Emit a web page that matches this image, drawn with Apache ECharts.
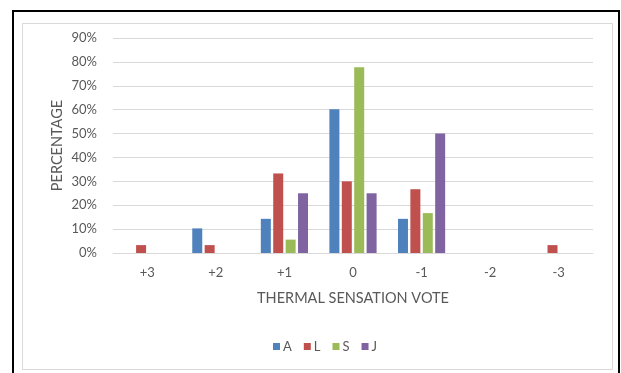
<!DOCTYPE html>
<html>
<head>
<meta charset="utf-8">
<script src="https://cdn.jsdelivr.net/npm/echarts@6/dist/echarts.min.js"></script>
<style>
  html, body { margin: 0; padding: 0; background: #ffffff; }
  #chart { width: 621px; height: 373px; }
</style>
</head>
<body>
<div id="chart"></div>
<script>
// Thermal sensation vote categories (hot to cold)
const votes = ['+3', '+2', '+1', '0', '-1', '-2', '-3'];

// Share of responses per vote, in percent
const seriesA = [0, 10.3, 14.3, 60.2, 14.3, 0, 0];
const seriesL = [3.3, 3.3, 33.3, 30.0, 26.7, 0, 3.3];
const seriesS = [0, 0, 5.6, 77.8, 16.7, 0, 0];
const seriesJ = [0, 0, 25.0, 25.0, 50.0, 0, 0];

const seriesNames = ['A', 'L', 'S', 'J'];
const seriesColors = ['#4f81bd', '#c0504d', '#9bbb59', '#8064a2'];

// Y axis range, in percent
const yMin = 0;
const yMax = 90;
const yStep = 10;

const FONT = 'Lato, "Open Sans", sans-serif';
const TEXT = '#595959';
const GRID = '#d9d9d9';

const chart = echarts.init(document.getElementById('chart'), null, { renderer: 'canvas' });

const values = [seriesA, seriesL, seriesS, seriesJ];

chart.setOption({
  backgroundColor: '#ffffff',
  animation: false,
  textStyle: { fontFamily: FONT },
  graphic: [
    {
      type: 'rect',
      shape: { x: 13, y: 11, width: 606, height: 372 },
      style: { fill: 'none', stroke: '#000000', lineWidth: 2 },
      silent: true
    },
    {
      type: 'rect',
      shape: { x: 22.5, y: 23.5, width: 590, height: 346 },
      style: { fill: 'none', stroke: GRID, lineWidth: 1 },
      silent: true
    }
  ],
  grid: { left: 113, right: 28, top: 38, bottom: 120, containLabel: false },
  legend: {
    data: seriesNames,
    left: 268,
    top: 335,
    icon: 'rect',
    itemWidth: 7,
    itemHeight: 7,
    itemGap: 12,
    textStyle: { color: TEXT, fontSize: 13, fontFamily: FONT, padding: [0, 0, 0, -2] }
  },
  xAxis: {
    type: 'category',
    data: votes,
    name: 'THERMAL SENSATION VOTE',
    nameLocation: 'middle',
    nameGap: 38,
    nameMoveOverlap: false,
    nameTextStyle: { color: TEXT, fontSize: 14.5, fontFamily: FONT },
    axisLine: { show: true, lineStyle: { color: GRID, width: 1 } },
    axisTick: { show: false },
    axisLabel: { color: TEXT, fontSize: 13, margin: 13, fontFamily: FONT }
  },
  yAxis: {
    type: 'value',
    min: yMin,
    max: yMax,
    interval: yStep,
    name: 'PERCENTAGE',
    nameLocation: 'middle',
    nameGap: 48,
    nameMoveOverlap: false,
    nameTextStyle: { color: TEXT, fontSize: 14.5, fontFamily: FONT },
    axisLine: { show: false },
    axisTick: { show: false },
    splitLine: { lineStyle: { color: GRID, width: 1 } },
    axisLabel: { color: TEXT, fontSize: 13, margin: 16, fontFamily: FONT, formatter: v => v + '%' }
  },
  series: seriesNames.map((name, i) => ({
    name: name,
    type: 'bar',
    data: values[i],
    barWidth: 10,
    barGap: '24%',
    itemStyle: { color: seriesColors[i] }
  }))
});
</script>
</body>
</html>
